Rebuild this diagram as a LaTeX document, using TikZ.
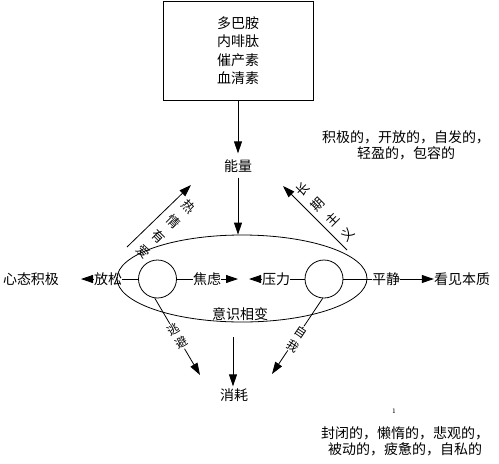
\documentclass[tikz,border=0pt]{standalone}
\usepackage{fontspec}
\newfontfamily\cjk{Noto Sans CJK SC}
\usetikzlibrary{arrows.meta,shapes.geometric}
\begin{document}
\begin{tikzpicture}[x=1pt,y=-1pt,
  every node/.style={font=\cjk\fontsize{14}{17}\selectfont, inner sep=0pt},
  ln/.style={line width=0.8pt},
  arr/.style={ln,-{Triangle[length=12pt,width=8pt]}},
  circ/.style={draw,circle,minimum size=38pt,ln},
  vlab/.style={fill=white,inner sep=1pt,align=center},
  dlab/.style={align=center,font=\cjk\fontsize{13}{21}\selectfont}]
\useasboundingbox (0,0) rectangle (499,464);
% top box
\node[draw,ln,minimum width=150pt,minimum height=99pt,align=center,
      font=\cjk\fontsize{14}{18.5}\selectfont] (box) at (238,50.5)
      {多巴胺\\内啡肽\\催产素\\血清素};
\node (nl) at (238,166) {能量};
\draw[arr] (box.south) -- ([yshift=6pt]nl.north);
% ellipse
\node[ellipse,draw,ln,minimum width=250pt,minimum height=87pt] (el) at (242,278.5) {};
\draw[arr] ([yshift=-5pt]nl.south) -- (nl.south |- el.north);
% circles
\node[circ] (cl) at (157.5,279) {};
\node[circ] (cr) at (324,279) {};
% row
\node (xt) at (31,279) {心态积极};
\node (fs) at (108,279) {放松};
\coordinate (a1) at (81,279);
\draw[arr] (fs.west) -- (a1);
\draw[ln] (cl.west) -- (fs.east);
\node (jl) at (207,279) {焦虑};
\draw[ln] (cl.east) -- (jl.west);
\coordinate (a2) at (238,279);
\draw[arr] (jl.east) -- (a2);
\node (yl) at (276,279) {压力};
\coordinate (a3) at (249,279);
\draw[arr] (yl.west) -- (a3);
\draw[ln] (cr.west) -- (yl.east);
\node (pj) at (386,279) {平静};
\draw[ln] (cr.east) -- (pj.west);
\node (kj) at (462,279) {看见本质};
\draw[arr] (pj.east) -- (kj.west);
% inside text
\node (yx) at (240,314) {意识相变};
% bottom arrows
\coordinate (m1) at (233,337);
\node[inner sep=2pt] (xh) at (234,395) {消耗};
\draw[arr] (m1) -- (m1 |- xh.north);
\coordinate (t1) at (200,375);
\draw[arr] (cl.-98) -- (t1);
\node[vlab,rotate=30,font=\cjk\fontsize{12}{16}\selectfont] (tb) at (177.5,336) {逃\\避};
\coordinate (t2) at (272,374);
\draw[arr] (cr.-94) -- (t2);
\node[vlab,rotate=-34,font=\cjk\fontsize{12}{16}\selectfont] (zw) at (297,339) {自\\我};
% upper diagonal arrows
\coordinate (u1s) at (127,247);
\coordinate (u1e) at (191,185);
\draw[arr] (u1s) -- (u1e);
\node[dlab,rotate=-45] (rq) at (166,229) {热\\情\\有\\爱};
\coordinate (u2s) at (347,250);
\coordinate (u2e) at (283,186);
\draw[arr] (u2s) -- (u2e);
\node[dlab,rotate=45] (cq) at (325,212) {长\\期\\主\\义};
% side texts
\node[align=center,font=\cjk\fontsize{14}{16}\selectfont] (tr) at (406,145)
  {积极的，开放的，自发的，\\轻盈的，包容的};
\node[font=\rmfamily\fontsize{10}{11}\selectfont] (mk) at (394,411) {\i};
\node[align=center,font=\cjk\fontsize{14}{16}\selectfont] (br) at (405,441)
  {封闭的，懒惰的，悲观的，\\被动的，疲惫的，自私的};
\end{tikzpicture}
\end{document}
